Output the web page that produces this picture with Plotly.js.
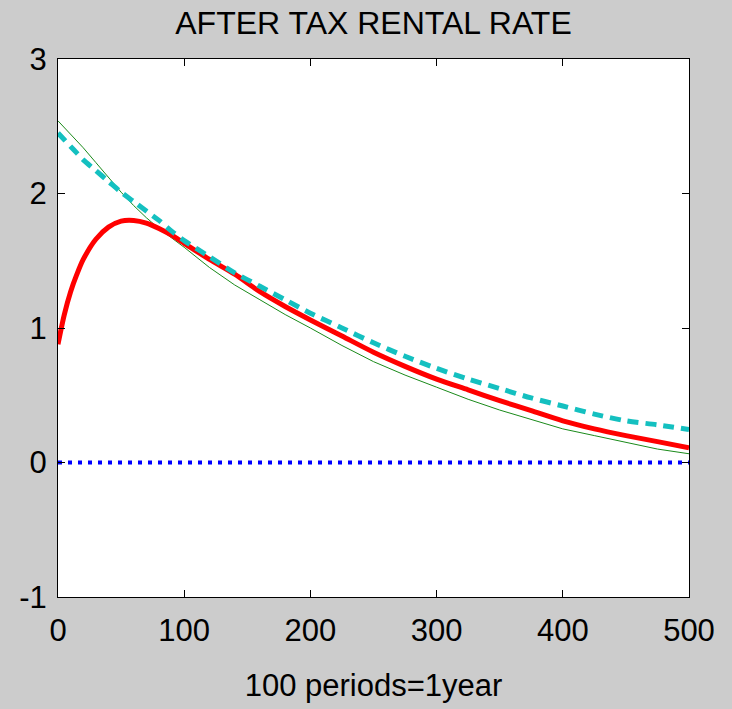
<!DOCTYPE html>
<html>
<head>
<meta charset="utf-8">
<script src="https://cdn.plot.ly/plotly-3.0.1.min.js"></script>
<style>
  html, body { margin: 0; padding: 0; background: #cccccc; }
  #chart { width: 732px; height: 709px; }
</style>
</head>
<body>
<div id="chart"></div>
<script>
// Periods (x axis)
const periods = [0, 5, 10, 15, 20, 30, 40, 50, 60, 70, 80, 90, 100, 120, 140, 160, 180, 200, 225, 250, 275, 300, 325, 350, 375, 400, 425, 450, 475, 500];

// Thick red solid series
const redSeries = [0.88, 1.10, 1.27, 1.40, 1.51, 1.66, 1.75, 1.795, 1.80, 1.78, 1.74, 1.69, 1.63, 1.51, 1.40, 1.27, 1.16, 1.06, 0.94, 0.82, 0.715, 0.62, 0.54, 0.46, 0.385, 0.31, 0.25, 0.20, 0.155, 0.11];

// Cyan dashed series
const cyanSeries = [2.45, 2.40, 2.35, 2.30, 2.25, 2.17, 2.09, 2.01, 1.94, 1.87, 1.80, 1.72, 1.65, 1.53, 1.41, 1.31, 1.21, 1.11, 1.00, 0.89, 0.79, 0.70, 0.62, 0.55, 0.48, 0.42, 0.36, 0.31, 0.28, 0.245];

// Thin green series
const greenSeries = [2.54, 2.49, 2.44, 2.39, 2.34, 2.23, 2.12, 2.01, 1.91, 1.82, 1.74, 1.67, 1.60, 1.45, 1.32, 1.21, 1.10, 1.00, 0.87, 0.75, 0.65, 0.56, 0.47, 0.39, 0.32, 0.25, 0.20, 0.15, 0.10, 0.065];

// Blue dotted zero line
const zeroX = [0, 500];
const zeroY = [0, 0];

const xTicks = [0, 100, 200, 300, 400, 500];
const yTicks = [-1, 0, 1, 2, 3];

const chartTitle = "AFTER TAX RENTAL RATE";
const xTitle = "100 periods=1year";

const traces = [
  { x: periods, y: greenSeries, mode: 'lines', line: { color: '#1a8a1a', width: 1 }, hoverinfo: 'skip' },
  { x: periods, y: redSeries, mode: 'lines', line: { color: '#ff0000', width: 5, shape: 'spline', smoothing: 0.8 }, hoverinfo: 'skip' },
  { x: periods, y: cyanSeries, mode: 'lines', line: { color: '#14c0c0', width: 5, dash: '11px,7px', shape: 'spline', smoothing: 0.8 }, hoverinfo: 'skip' },
  { x: zeroX, y: zeroY, mode: 'lines', line: { color: '#0000ff', width: 4, dash: '4px,6px' }, hoverinfo: 'skip' }
];

const font = "Liberation Sans, Arial, Helvetica, sans-serif";

const layout = {
  width: 732,
  height: 709,
  paper_bgcolor: '#cccccc',
  plot_bgcolor: '#ffffff',
  showlegend: false,
  margin: { l: 58, r: 43, t: 59, b: 112 },
  font: { family: font, color: '#000000', size: 31 },
  title: {
    text: chartTitle,
    font: { family: font, size: 32, color: '#000000' },
    x: 0.5, xref: 'paper', xanchor: 'center',
    y: 0.968, yref: 'container', yanchor: 'middle'
  },
  xaxis: {
    range: [0, 500],
    tickvals: xTicks,
    ticktext: xTicks.map(String),
    ticks: 'inside', ticklen: 7, tickwidth: 1, tickcolor: '#000000',
    ticklabelstandoff: 6,
    showline: true, linecolor: '#000000', linewidth: 1, mirror: 'ticks',
    showgrid: false, zeroline: false,
    tickfont: { family: font, size: 31, color: '#000000' },
    title: { text: xTitle, font: { family: font, size: 31, color: '#000000' }, standoff: 27 }
  },
  yaxis: {
    range: [-1, 3],
    tickvals: yTicks,
    ticktext: yTicks.map(String),
    ticks: 'inside', ticklen: 7, tickwidth: 1, tickcolor: '#000000',
    ticklabelstandoff: 4,
    showline: true, linecolor: '#000000', linewidth: 1, mirror: 'ticks',
    showgrid: false, zeroline: false,
    tickfont: { family: font, size: 31, color: '#000000' }
  }
};

Plotly.newPlot('chart', traces, layout, { staticPlot: true, displayModeBar: false });
</script>
</body>
</html>
